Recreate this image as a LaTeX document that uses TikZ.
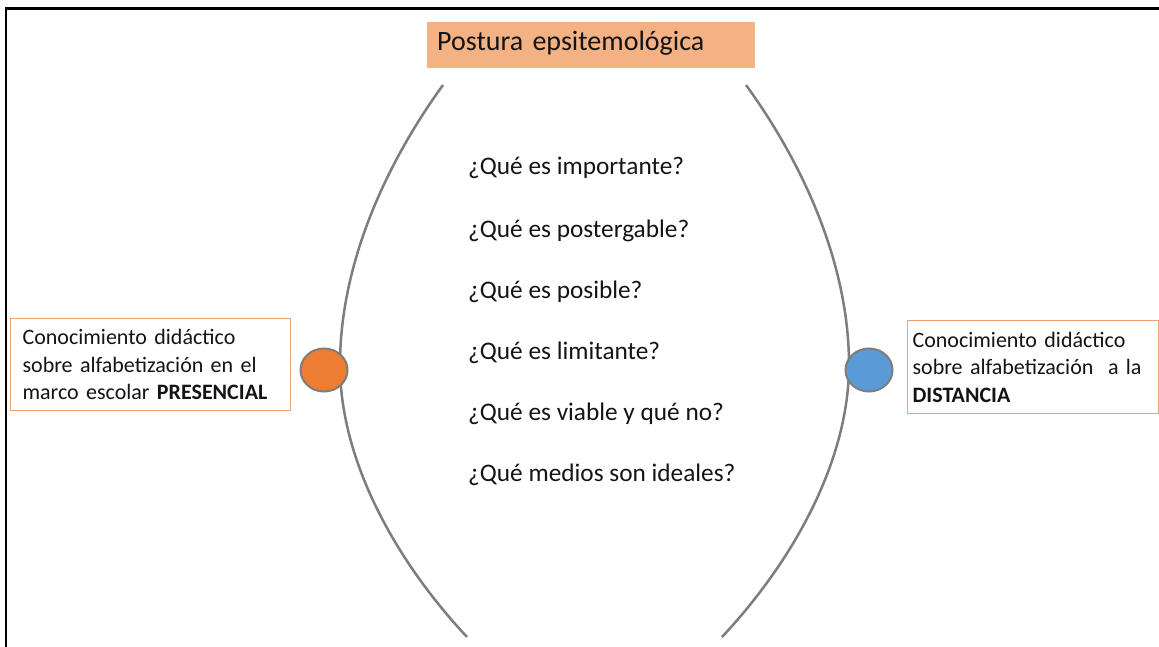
\documentclass[tikz,border=0pt]{standalone}
\usepackage{fontspec}
\setmainfont{Carlito}
\usetikzlibrary{shapes.geometric}
\definecolor{peach}{RGB}{244,177,131}
\definecolor{boxline}{RGB}{238,160,110}
\definecolor{arcgray}{RGB}{125,125,125}
\definecolor{dotorange}{RGB}{237,125,49}
\definecolor{dotblue}{RGB}{91,155,213}
\definecolor{txt}{RGB}{20,20,20}
\tikzset{
  titlebox/.style={fill=peach, draw=none, anchor=north west, inner xsep=10pt, inner ysep=4pt,
    text width=308pt, align=left, text height=24pt, text depth=14pt,
    font=\fontsize{28}{32}\selectfont, text=txt},
  question/.style={anchor=base west, inner sep=0pt, font=\fontsize{25.3}{29}\selectfont, text=txt},
  sidebox/.style={draw=boxline, line width=1.2pt, fill=white, align=left, inner ysep=0pt,
    font=\fontsize{22}{27.5}\selectfont, text=txt},
  arcline/.style={draw=arcgray, line width=2.5pt},
  dot/.style={ellipse, draw=arcgray, line width=2pt, inner sep=0pt, minimum width=47pt, minimum height=43pt}
}
\begin{document}
\begin{tikzpicture}[x=1pt,y=-1pt]
\useasboundingbox (0,0) rectangle (1159,647);
% frame
\draw[black, line width=3pt] (5,8.5) -- (1159,8.5);
\draw[black, line width=2pt] (6,7) -- (6,647);
% title
\node[titlebox] (title) at (427,22) {Postura epsitemológica};
% arcs
\coordinate (lt) at (443,85);
\coordinate (lm) at (340,365);
\coordinate (lb) at (467,637);
\coordinate (rt) at (746,85);
\coordinate (rm) at (849,365);
\coordinate (rb) at (722,637);
\draw[arcline] (lt) .. controls (385,165) and (340,265) .. (lm) .. controls (340,460) and (395,560) .. (lb);
\draw[arcline] (rt) .. controls (804,165) and (849,265) .. (rm) .. controls (849,460) and (794,560) .. (rb);
% questions
\node[question] (q1) at (468,175) {¿Qué es importante?};
\node[question] (q2) at (468,237) {¿Qué es postergable?};
\node[question] (q3) at (468,298) {¿Qué es posible?};
\node[question] (q4) at (468,359) {¿Qué es limitante?};
\node[question] (q5) at (468,420) {¿Qué es viable y qué no?};
\node[question] (q6) at (468,481) {¿Qué medios son ideales?};
% side boxes
\node[sidebox, anchor=north west, inner xsep=12pt, text width=256pt, minimum height=92pt] (lbox) at (10,318)
  {Conocimiento didáctico\\sobre alfabetización en el\\marco escolar \textbf{PRESENCIAL}};
\node[sidebox, anchor=north west, inner xsep=5pt, text width=241pt, minimum height=93pt] (rbox) at (907,320)
  {Conocimiento didáctico\\sobre alfabetización~ a la\\\textbf{DISTANCIA}};
% dots
\node[dot, fill=dotorange] (ldot) at (324,370) {};
\node[dot, fill=dotblue] (rdot) at (869,370) {};
\end{tikzpicture}
\end{document}
